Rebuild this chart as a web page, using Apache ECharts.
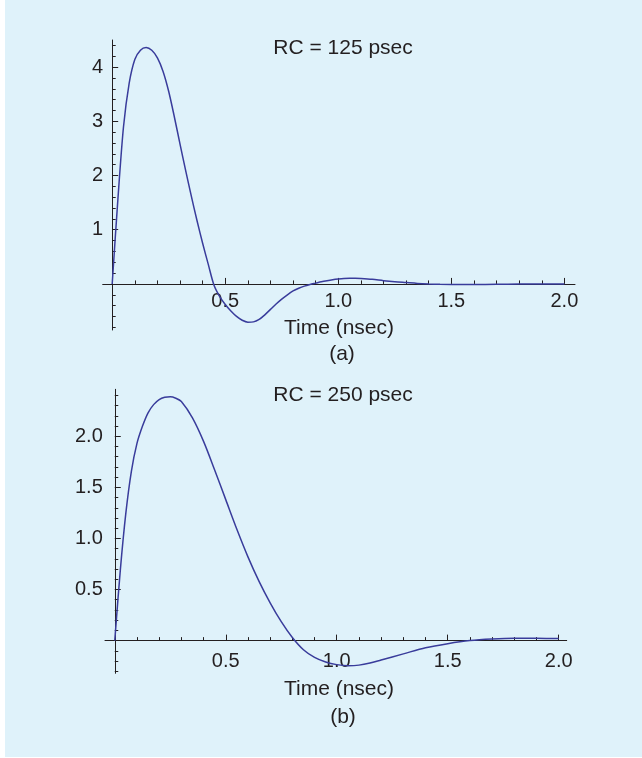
<!DOCTYPE html>
<html><head><meta charset="utf-8">
<script src="https://cdn.jsdelivr.net/npm/echarts@6/dist/echarts.min.js"></script>
<style>
html,body{margin:0;padding:0;background:#ffffff;}
#bg{position:absolute;left:5px;top:0;width:637px;height:757px;background:#dff2fa;}
#chart{position:absolute;left:0;top:0;width:642px;height:758px;}
</style></head><body>
<div id="bg"></div><div id="chart"></div>
<script>
// ---- data ----
const timeA = [0, 0.025, 0.05, 0.075, 0.1, 0.125, 0.15, 0.175, 0.2, 0.225, 0.25, 0.275, 0.3, 0.325, 0.35, 0.375, 0.4, 0.425, 0.45, 0.475, 0.5, 0.525, 0.55, 0.575, 0.6, 0.625, 0.65, 0.675, 0.7, 0.725, 0.75, 0.775, 0.8, 0.825, 0.85, 0.875, 0.9, 0.925, 0.95, 0.975, 1.0, 1.025, 1.05, 1.075, 1.1, 1.15, 1.2, 1.25, 1.3, 1.35, 1.4, 1.45, 1.5, 1.6, 1.7, 1.8, 1.9, 2.0];
const valuesA = [0, 1.55, 2.9, 3.7, 4.14, 4.31, 4.36, 4.31, 4.17, 3.92, 3.55, 3.08, 2.58, 2.09, 1.62, 1.17, 0.75, 0.36, -0.02, -0.23, -0.38, -0.5, -0.6, -0.67, -0.705, -0.7, -0.655, -0.57, -0.47, -0.37, -0.28, -0.2, -0.13, -0.08, -0.04, -0.01, 0.015, 0.04, 0.06, 0.077, 0.09, 0.1, 0.105, 0.104, 0.1, 0.085, 0.06, 0.04, 0.025, 0.01, 0.0, -0.007, -0.01, -0.01, -0.006, -0.003, 0, 0];
const timeB = [0, 0.025, 0.05, 0.075, 0.1, 0.125, 0.15, 0.175, 0.2, 0.225, 0.25, 0.275, 0.3, 0.35, 0.4, 0.45, 0.5, 0.55, 0.6, 0.65, 0.7, 0.75, 0.8, 0.85, 0.9, 0.95, 1.0, 1.05, 1.1, 1.15, 1.2, 1.3, 1.4, 1.5, 1.6, 1.7, 1.8, 1.9, 2.0];
const valuesB = [0, 0.69, 1.25, 1.66, 1.93, 2.1, 2.23, 2.31, 2.36, 2.382, 2.386, 2.372, 2.34, 2.18, 1.95, 1.67, 1.38, 1.09, 0.82, 0.58, 0.37, 0.185, 0.03, -0.09, -0.165, -0.21, -0.235, -0.245, -0.24, -0.22, -0.19, -0.13, -0.07, -0.03, 0.0, 0.015, 0.022, 0.022, 0.02];
const xTickLabels = [0.5, 1.0, 1.5, 2.0];
const yTickLabelsA = [1, 2, 3, 4];
const yTickLabelsB = [0.5, 1.0, 1.5, 2.0];
const titleA = 'RC = 125 psec';
const titleB = 'RC = 250 psec';
const xAxisName = 'Time (nsec)';
const panelA = '(a)';
const panelB = '(b)';

function range(a, b, step, exclude) {
  const out = [];
  const n = Math.round((b - a) / step);
  for (let i = 0; i <= n; i++) {
    const v = Math.round((a + i * step) * 1000) / 1000;
    if (!exclude.some(e => Math.abs(e - v) < 1e-6)) out.push(v);
  }
  return out;
}
const xMinor = range(0.1, 1.9, 0.1, xTickLabels);
const yMinorA = range(-0.8, 4.4, 0.2, yTickLabelsA.concat([0]));
const yMinorB = range(-0.3, 2.4, 0.1, yTickLabelsB.concat([0]));

const ink = '#231f20';
const lineColor = '#393c9b';
const FONT = '"Liberation Sans", Arial, Helvetica, sans-serif';

// plot boxes (Mathematica-style axes crossing at the origin)
const boxA = { left: 102.7, top: 40, width: 472.3, height: 290, xMin: -0.042, xMax: 2.047, yMin: -0.85, yMax: 4.5 };
const boxB = { left: 105, top: 389.3, width: 461.7, height: 284, xMin: -0.044, xMax: 2.036, yMin: -0.32, yMax: 2.46 };
// offset that moves the axis from the grid edge to the zero line
function xOff(b) { return -(0 - b.yMin) / (b.yMax - b.yMin) * b.height; }
function yOff(b) { return -(0 - b.xMin) / (b.xMax - b.xMin) * b.width; }

function xAxisPair(grid, b, labelMargin) {
  const off = xOff(b);
  return [{
    gridIndex: grid, type: 'value', min: b.xMin, max: b.xMax, position: 'bottom', offset: off,
    axisLine: { show: true, onZero: false, lineStyle: { color: ink, width: 1 } },
    axisTick: { show: true, inside: true, length: 6, customValues: xTickLabels, lineStyle: { color: ink, width: 1 } },
    axisLabel: { show: true, customValues: xTickLabels, formatter: v => Number(v).toFixed(1),
      margin: labelMargin, fontSize: 20, fontFamily: FONT, color: ink },
    splitLine: { show: false }
  }, {
    gridIndex: grid, type: 'value', min: b.xMin, max: b.xMax, position: 'bottom', offset: off,
    axisLine: { show: false, onZero: false },
    axisTick: { show: true, inside: true, length: 3.5, customValues: xMinor, lineStyle: { color: ink, width: 1 } },
    axisLabel: { show: false }, splitLine: { show: false }
  }];
}
function yAxisPair(grid, b, labels, minors, fmt, labelMargin) {
  const off = yOff(b);
  return [{
    gridIndex: grid, type: 'value', min: b.yMin, max: b.yMax, position: 'left', offset: off,
    axisLine: { show: true, onZero: false, lineStyle: { color: ink, width: 1 } },
    axisTick: { show: true, inside: true, length: 6, customValues: labels, lineStyle: { color: ink, width: 1 } },
    axisLabel: { show: true, customValues: labels, formatter: fmt, margin: labelMargin, fontSize: 20, fontFamily: FONT, color: ink },
    splitLine: { show: false }
  }, {
    gridIndex: grid, type: 'value', min: b.yMin, max: b.yMax, position: 'left', offset: off,
    axisLine: { show: false, onZero: false },
    axisTick: { show: true, inside: true, length: 3.5, customValues: minors, lineStyle: { color: ink, width: 1 } },
    axisLabel: { show: false }, splitLine: { show: false }
  }];
}

function txt(text, x, y) {
  return { type: 'text', x: x, y: y, silent: true,
    style: { text: text, fill: ink, font: '21px ' + FONT, align: 'center', verticalAlign: 'middle' } };
}

const chart = echarts.init(document.getElementById('chart'), null, { renderer: 'canvas' });
chart.setOption({
  backgroundColor: 'transparent',
  animation: false,
  grid: [
    { left: boxA.left, top: boxA.top, width: boxA.width, height: boxA.height, containLabel: false, outerBoundsMode: 'none' },
    { left: boxB.left, top: boxB.top, width: boxB.width, height: boxB.height, containLabel: false, outerBoundsMode: 'none' }
  ],
  xAxis: xAxisPair(0, boxA, 8).concat(xAxisPair(1, boxB, 11)),
  yAxis: yAxisPair(0, boxA, yTickLabelsA, yMinorA, v => String(Math.round(v)), 9)
    .concat(yAxisPair(1, boxB, yTickLabelsB, yMinorB, v => Number(v).toFixed(1), 12)),
  series: [
    { type: 'line', xAxisIndex: 0, yAxisIndex: 0, showSymbol: false, smooth: 0.3,
      data: timeA.map((t, i) => [t, valuesA[i]]),
      lineStyle: { color: lineColor, width: 1.5 }, itemStyle: { color: lineColor } },
    { type: 'line', xAxisIndex: 2, yAxisIndex: 2, showSymbol: false, smooth: 0.3,
      data: timeB.map((t, i) => [t, valuesB[i]]),
      lineStyle: { color: lineColor, width: 1.5 }, itemStyle: { color: lineColor } }
  ],
  graphic: [
    txt(titleA, 343, 48),
    txt(xAxisName, 339, 328.5),
    txt(panelA, 342, 354),
    txt(titleB, 343, 395),
    txt(xAxisName, 339, 689.5),
    txt(panelB, 343, 717.5)
  ]
});
</script>
</body></html>
